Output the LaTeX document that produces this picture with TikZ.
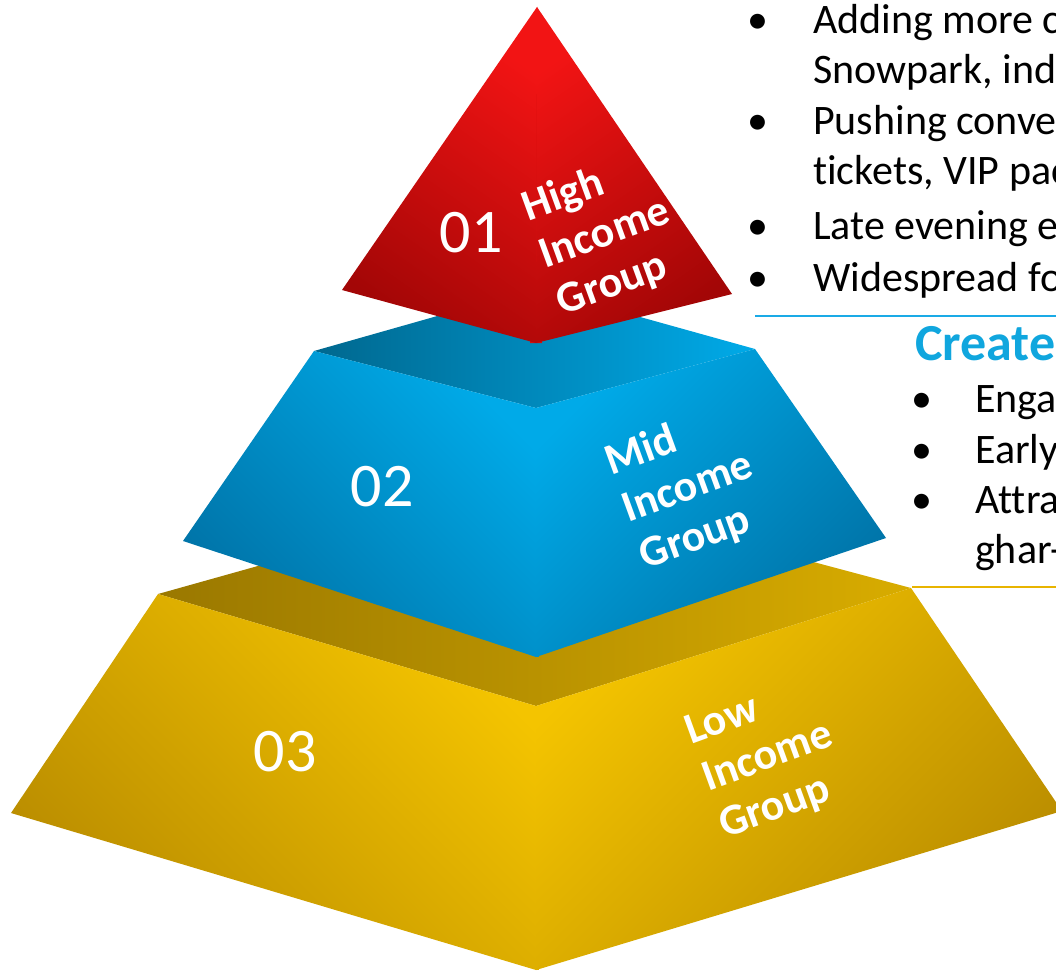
\documentclass[tikz,border=0pt]{standalone}
\usepackage{fontspec}
\setmainfont{Carlito}[Ligatures=NoCommon]
\usetikzlibrary{calc}
\definecolor{redhi}{HTML}{F21414}
\definecolor{redlo}{HTML}{A30606}
\definecolor{redmid}{HTML}{D60E0E}
\definecolor{bluehi}{HTML}{00AAE8}
\definecolor{bluelo}{HTML}{0072A6}
\definecolor{bluemid}{HTML}{008FC8}
\definecolor{bluetop}{HTML}{00688F}
\definecolor{yelhi}{HTML}{F4C400}
\definecolor{yello}{HTML}{B98C00}
\definecolor{yelmid}{HTML}{DDAE00}
\definecolor{yeltop}{HTML}{9A7800}
\definecolor{yeltopr}{HTML}{D8AC00}
\definecolor{rule}{HTML}{1AAAE6}
\definecolor{rulegold}{HTML}{E8B400}
\definecolor{head}{HTML}{10A6DE}
\begin{document}
\begin{tikzpicture}[x=1pt, y=-1pt, every node/.style={inner sep=0pt},
    num/.style={text=white, font=\fontsize{62}{62}\selectfont},
    grp/.style={text=white, font=\fontsize{44}{50}\selectfont\bfseries, align=left, rotate=20},
    txt/.style={anchor=base west, font=\fontsize{42}{48}\selectfont},
    blt/.style={anchor=base, font=\fontsize{42}{48}\selectfont}]
    \useasboundingbox (0,0) rectangle (1056,971);
    \clip (0,0) rectangle (1056,971);
    % corners of the three blocks
    \coordinate (rt) at (537,7);   \coordinate (rl) at (342,290);
    \coordinate (rf) at (536,343); \coordinate (rr) at (732,294);
    \coordinate (bl) at (314,351); \coordinate (bb) at (536,288);
    \coordinate (br) at (755,349); \coordinate (bf) at (536,408);
    \coordinate (bll) at (183,541); \coordinate (bfl) at (536,657); \coordinate (brl) at (886,538);
    \coordinate (yl) at (158,594); \coordinate (yb) at (536,488);
    \coordinate (yr) at (911,588); \coordinate (yf) at (536,706);
    \coordinate (yll) at (11,813); \coordinate (yfl) at (536,970); \coordinate (yrl) at (1062,811);

    % low block
    \shade[left color=yeltop, middle color=yeltop, right color=yeltopr] (yl) -- (yb) -- (yr) -- (yf) -- cycle;
    \fill[yelmid] (yf) -- (yfl) -- ($(yfl)+(3,0)$) -- ($(yf)+(3,0)$) -- cycle;
    \shade[top color=yelhi, bottom color=yello, shading angle=-45] (yl) -- (yf) -- (yfl) -- (yll) -- cycle;
    \shade[top color=yelhi, bottom color=yello, shading angle=45] (yf) -- (yr) -- (yrl) -- (yfl) -- cycle;
    % mid block
    \shade[left color=bluetop, right color=bluehi] (bl) -- (bb) -- (br) -- (bf) -- cycle;
    \fill[bluemid] (bf) -- (bfl) -- ($(bfl)+(3,0)$) -- ($(bf)+(3,0)$) -- cycle;
    \shade[top color=bluehi, bottom color=bluelo, shading angle=-45] (bl) -- (bf) -- (bfl) -- (bll) -- cycle;
    \shade[top color=bluehi, bottom color=bluelo, shading angle=45] (bf) -- (br) -- (brl) -- (bfl) -- cycle;
    % high block
    \fill[redmid] (rt) -- ($(rf)+(-6,0)$) -- ($(rf)+(6,0)$) -- cycle;
    \shade[top color=redhi, bottom color=redlo, shading angle=-35] (rt) -- (rl) -- (rf) -- cycle;
    \shade[top color=redhi, bottom color=redlo, shading angle=35] (rt) -- (rf) -- (rr) -- cycle;

    \node[num] (n1) at (471,233) {01};
    \node[num] (n2) at (382,487) {02};
    \node[num] (n3) at (285,752) {03};
    \node[grp] (g1) at (605,234) {High\\Income\\Group};
    \node[grp] (g2) at (688,488) {Mid\\Income\\Group};
    \node[grp] (g3) at (768,758) {Low\\Income\\Group};

    % text on the right
    \node[blt] (b1) at (758,34) {•};
    \node[txt] (t1) at (813,34) {Adding more c};
    \node[txt] (t2) at (813,84) {Snowpark, ind};
    \node[blt] (b2) at (758,134) {•};
    \node[txt] (t3) at (813,134) {Pushing conve};
    \node[txt] (t4) at (813,184) {tickets, VIP pac};
    \node[blt] (b3) at (758,239) {•};
    \node[txt] (t5) at (813,239) {Late evening e};
    \node[blt] (b4) at (758,291) {•};
    \node[txt] (t6) at (813,291) {Widespread fo};
    \draw[rule, line width=2pt] (755,316) -- (1056,316);
    \node[txt, text=head, font=\fontsize{52}{52}\selectfont\bfseries] (h2) at (915,360) {Create};
    \node[blt] (b5) at (922,412) {•};
    \node[txt] (s1) at (975,412) {Enga};
    \node[blt] (b6) at (922,463) {•};
    \node[txt] (s2) at (975,463) {Early};
    \node[blt] (b7) at (922,513) {•};
    \node[txt] (s3) at (975,513) {Attra};
    \node[txt] (s4) at (975,563) {ghar-};
    \draw[rulegold, line width=2pt] (912,587) -- (1056,587);
\end{tikzpicture}
\end{document}
